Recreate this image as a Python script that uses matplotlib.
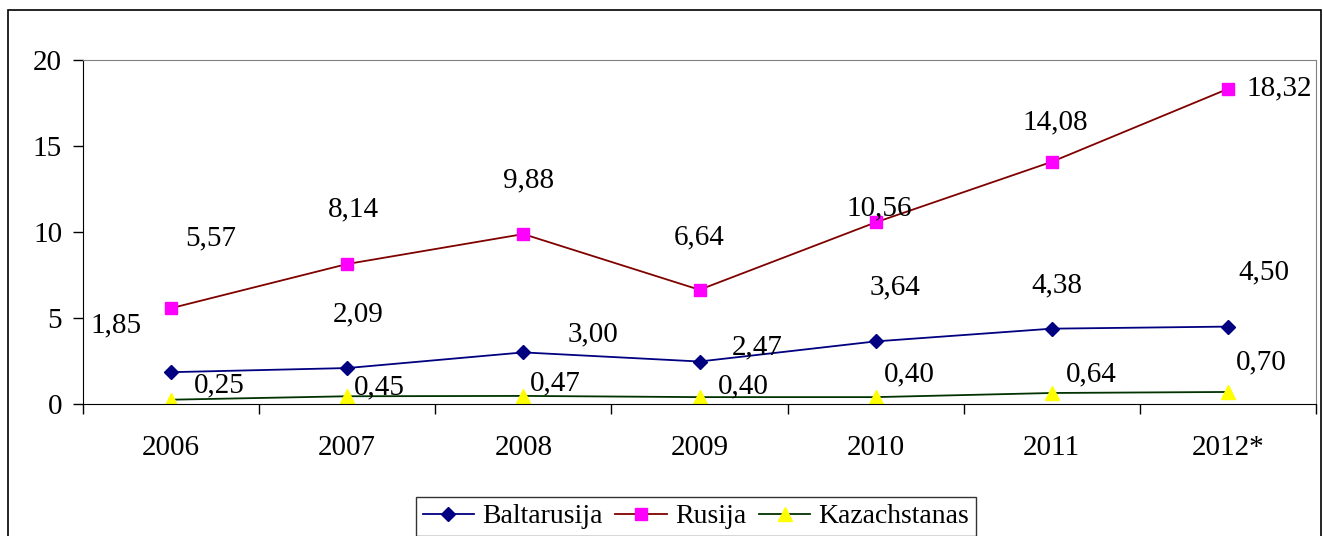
import matplotlib.pyplot as plt
from matplotlib.patches import Rectangle

years = ["2006", "2007", "2008", "2009", "2010", "2011", "2012*"]
baltarusija = [1.85, 2.09, 3.00, 2.47, 3.64, 4.38, 4.50]
rusija = [5.57, 8.14, 9.88, 6.64, 10.56, 14.08, 18.32]
kazachstanas = [0.25, 0.45, 0.47, 0.40, 0.40, 0.64, 0.70]

# label offsets in pixels (x right, y up) as placed in the original
off_rus = [(40, 70), (6, 55), (5, 54), (0, 52), (4, 14), (3, 39), (51, 1)]
off_bal = [(-55, 47), (11, 54), (70, 18), (58, 14), (19, 54), (5, 43), (36, 54)]
off_kaz = [(48, 14), (32, 9), (32, 13), (44, 11), (34, 23), (40, 19), (33, 30)]

plt.rcParams["font.family"] = ["Liberation Serif", "DejaVu Serif"]
fs = 21

fig = plt.figure(figsize=(13.23, 5.36), dpi=100)
ax = fig.add_axes([83 / 1323, 1 - 404 / 536, (1316 - 83) / 1323, (404 - 60) / 536])

x = list(range(len(years)))
ax.plot(x, baltarusija, color="#000080", lw=1.3, marker="D", ms=7,
        mfc="#000080", mec="#000080", label="Baltarusija")
ax.plot(x, rusija, color="#800000", lw=1.3, marker="s", ms=8,
        mfc="#FF00FF", mec="#FF00FF", label="Rusija")
ax.plot(x, kazachstanas, color="#003300", lw=1.3, marker="^", ms=10,
        mfc="#FFFF00", mec="#FFFF00", label="Kazachstanas")

for vals, offs in [(rusija, off_rus), (baltarusija, off_bal), (kazachstanas, off_kaz)]:
    for i, (v, o) in enumerate(zip(vals, offs)):
        ax.annotate(f"{v:.2f}".replace(".", ","), (i, v), xytext=o,
                    textcoords="offset pixels", ha="center", va="center", fontsize=fs)

ax.set_xlim(-0.5, 6.5)
ax.set_ylim(0, 20)
ax.set_yticks([0, 5, 10, 15, 20])
ax.set_xticks([i - 0.5 for i in range(len(years) + 1)])
ax.set_xticklabels([])
ax.set_xticks(x, minor=True)
ax.set_xticklabels(years, minor=True, fontsize=fs)
ax.tick_params(axis="x", which="minor", length=0, pad=22)
ax.tick_params(axis="x", which="major", length=7, width=1, direction="out")
ax.tick_params(axis="y", length=7, width=1, direction="out", labelsize=fs, pad=8)

ax.spines["left"].set_color("black")
ax.spines["bottom"].set_color("black")
ax.spines["top"].set_color("#808080")
ax.spines["right"].set_color("#808080")

leg = fig.legend(loc="upper center", bbox_to_anchor=(696 / 1323, 1 - 497 / 536),
                 ncol=3, fontsize=20, frameon=True, fancybox=False,
                 edgecolor="black", handlelength=1.85, columnspacing=0.45,
                 handletextpad=0.3, borderpad=0.25, borderaxespad=0)
leg.get_frame().set_linewidth(1)

fig.patches.append(Rectangle((8 / 1323, -0.1), (1321 - 8) / 1323, 1.1 - 10 / 536,
                             transform=fig.transFigure, fill=False,
                             edgecolor="black", lw=1.2))

fig.savefig("out.png", dpi=100)
